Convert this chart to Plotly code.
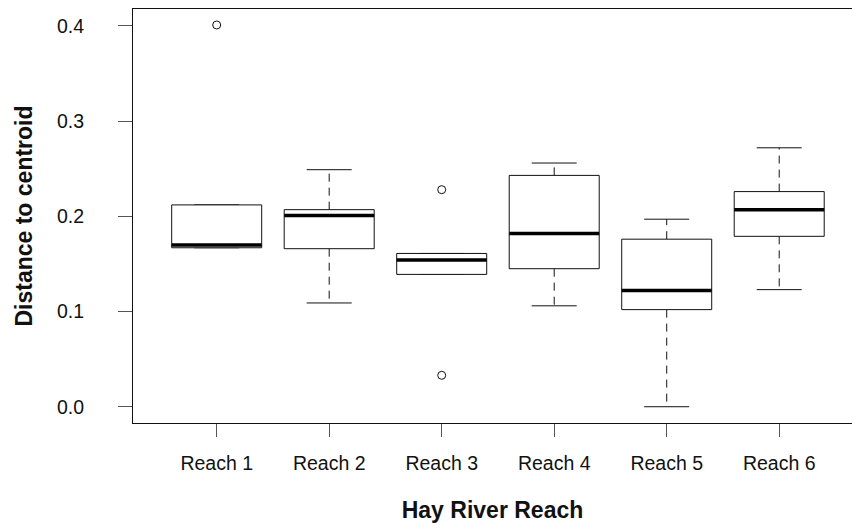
import plotly.graph_objects as go

# Distance to group centroid, summarised per reach of the Hay River
reaches = ["Reach 1", "Reach 2", "Reach 3", "Reach 4", "Reach 5", "Reach 6"]
lower_whisker = [0.167, 0.109, 0.139, 0.106, 0.000, 0.123]
q1 = [0.167, 0.166, 0.139, 0.145, 0.102, 0.179]
median = [0.170, 0.201, 0.154, 0.182, 0.122, 0.207]
q3 = [0.212, 0.207, 0.161, 0.243, 0.176, 0.226]
upper_whisker = [0.212, 0.249, 0.161, 0.256, 0.197, 0.272]
outlier_reach = [1, 3, 3]
outlier_value = [0.401, 0.228, 0.033]

BOX_HALF = 0.4
CAP_HALF = 0.2
INK = "#111111"
FONT = "Arial, Liberation Sans, sans-serif"

fig = go.Figure()

for i, name in enumerate(reaches):
    x = i + 1
    # dashed whiskers from the hinges out to the whisker ends
    fig.add_trace(go.Scatter(
        x=[x, x, None, x, x],
        y=[q3[i], upper_whisker[i], None, q1[i], lower_whisker[i]],
        mode="lines", line=dict(color=INK, width=1, dash="8px,6px"),
        hoverinfo="skip", showlegend=False))
    # staples at the whisker ends
    fig.add_trace(go.Scatter(
        x=[x - CAP_HALF, x + CAP_HALF, None, x - CAP_HALF, x + CAP_HALF],
        y=[upper_whisker[i], upper_whisker[i], None, lower_whisker[i], lower_whisker[i]],
        mode="lines", line=dict(color=INK, width=1),
        hoverinfo="skip", showlegend=False))
    # interquartile box
    fig.add_trace(go.Scatter(
        x=[x - BOX_HALF, x + BOX_HALF, x + BOX_HALF, x - BOX_HALF, x - BOX_HALF],
        y=[q1[i], q1[i], q3[i], q3[i], q1[i]],
        mode="lines", fill="toself", fillcolor="white",
        line=dict(color=INK, width=1),
        name=name, showlegend=False))
    # median bar
    fig.add_trace(go.Scatter(
        x=[x - BOX_HALF, x + BOX_HALF],
        y=[median[i], median[i]],
        mode="lines", line=dict(color="black", width=3.5),
        hoverinfo="skip", showlegend=False))

# outlying observations
fig.add_trace(go.Scatter(
    x=outlier_reach, y=outlier_value, mode="markers",
    marker=dict(symbol="circle-open", size=8, color=INK, line=dict(width=1)),
    showlegend=False))

fig.update_layout(
    width=852, height=523,
    margin=dict(l=133, r=0, t=9, b=100),
    paper_bgcolor="white", plot_bgcolor="white",
    font=dict(family=FONT, color="#111111", size=19),
    xaxis=dict(
        range=[0.256, 6.647],
        tickmode="array", tickvals=list(range(1, len(reaches) + 1)), ticktext=reaches,
        showgrid=False, zeroline=False,
        showline=True, linecolor=INK, linewidth=1, mirror=True,
        ticks="outside", ticklen=13, tickcolor="#555555", tickwidth=1,
        ticklabelstandoff=10,
        tickfont=dict(size=19.5),
        title=dict(text="<b>Hay River Reach</b>", font=dict(size=23), standoff=29),
    ),
    yaxis=dict(
        range=[-0.0171, 0.4178],
        tickmode="array", tickvals=[0.0, 0.1, 0.2, 0.3, 0.4],
        ticktext=["0.0", "0.1", "0.2", "0.3", "0.4"],
        showgrid=False, zeroline=False,
        showline=True, linecolor=INK, linewidth=1,
        ticks="outside", ticklen=14, tickcolor="#555555", tickwidth=1,
        ticklabelstandoff=30,
        tickfont=dict(size=19.5),
        title=dict(text="<b>Distance to centroid</b>", font=dict(size=23), standoff=17),
    ),
)

fig.write_html("out.html")
